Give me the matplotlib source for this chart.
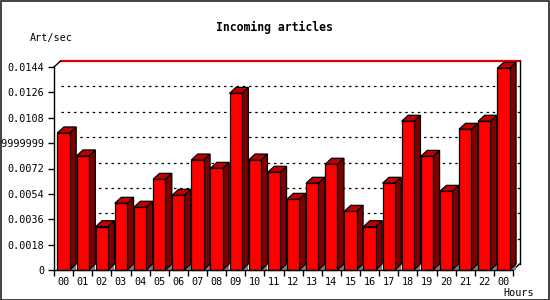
import numpy as np
import matplotlib
matplotlib.use("Agg")
import matplotlib.pyplot as plt
from matplotlib.patches import Rectangle, Polygon

hours = ["00", "01", "02", "03", "04", "05", "06", "07", "08", "09", "10", "11",
         "12", "13", "14", "15", "16", "17", "18", "19", "20", "21", "22", "00"]
art_per_sec = [0.00972, 0.00809, 0.00307, 0.00473, 0.00445, 0.00643, 0.0053, 0.0078,
               0.00721, 0.01253, 0.0078, 0.00693, 0.00501, 0.00615, 0.0075, 0.00416,
               0.00307, 0.00615, 0.01055, 0.00806, 0.00558, 0.00998, 0.01055, 0.01431]
yticks = [0, 0.0018, 0.0036, 0.0054, 0.0072, 0.009, 0.0108, 0.0126, 0.0144]
ytick_labels = ["0", "0.0018", "0.0036", "0.0054", "0.0072", "0.00899999999999",
                "0.0108", "0.0126", "0.0144"]

W, H = 550, 300
fig = plt.figure(figsize=(5.5, 3), dpi=100)
fig.patch.set_facecolor("white")
ax = fig.add_axes([54 / W, 30 / H, (513 - 54) / W, 203 / H])
ax.set_xlim(0, 24)
ax.set_ylim(0, 0.0144)
ax.patch.set_visible(False)

mono = "DejaVu Sans Mono"
n = len(art_per_sec)
# 3d depth in data units
px_x = 24 / 459
px_y = 0.0144 / 203
dx = 6.5 * px_x
dy = 6 * px_y
off = 3.4 * px_x
w = 12.3 * px_x

# back grid lines
for t in yticks[1:-1]:
    ax.plot([dx, 24 + dx], [t + dy, t + dy], color="black", lw=0.9,
            linestyle=(0, (2, 3)), clip_on=False, zorder=1)

# back frame
ax.plot([dx, 24 + dx], [0.0144 + dy, 0.0144 + dy], color="#e00000", lw=1.6,
        clip_on=False, zorder=1)
ax.plot([0, dx], [0.0144, 0.0144 + dy], color="black", lw=1, clip_on=False, zorder=1)
ax.plot([24 + dx, 24 + dx], [dy, 0.0144 + dy], color="black", lw=1, clip_on=False, zorder=1)
ax.plot([24, 24 + dx], [0, dy], color="black", lw=1, clip_on=False, zorder=1)

for i, v in enumerate(art_per_sec):
    x0 = i + off
    x1 = x0 + w
    ax.add_patch(Polygon([(x1, 0), (x1 + dx, 0), (x1 + dx, dy)], closed=True,
                         facecolor="#808080", edgecolor="none", zorder=2, clip_on=False))
    ax.add_patch(Polygon([(x1, v), (x1 + dx, v + dy), (x1 + dx, dy), (x1, 0)], closed=True,
                         facecolor="#800000", edgecolor="black", lw=0.9, zorder=2, clip_on=False))
    ax.add_patch(Polygon([(x0, v), (x0 + dx, v + dy), (x1 + dx, v + dy), (x1, v)], closed=True,
                         facecolor="#c00000", edgecolor="black", lw=0.9, zorder=2, clip_on=False))
    ax.add_patch(Rectangle((x0, 0), w, v, facecolor="#ff0000", edgecolor="black",
                           lw=0.9, zorder=3, clip_on=False))

for s in ["top", "right"]:
    ax.spines[s].set_visible(False)
for s in ["left", "bottom"]:
    ax.spines[s].set_linewidth(1)
    ax.spines[s].set_zorder(4)

ax.set_yticks(yticks)
ax.set_yticklabels(ytick_labels, fontfamily=mono, fontsize=7.3)
ax.tick_params(axis="y", direction="out", length=4, width=1, pad=3)
ax.set_xticks(range(n + 1))
ax.set_xticklabels([""] * (n + 1))
ax.tick_params(axis="x", which="major", direction="out", length=4, width=1)
ax.set_xticks(np.arange(n) + 0.5, hours, minor=True)
ax.tick_params(axis="x", which="minor", length=0, pad=5, labelsize=7.3)
for lab in ax.get_xticklabels(minor=True):
    lab.set_fontfamily(mono)

fig.text(274 / W, 1 - 27.5 / H, "Incoming articles", ha="center", va="center",
         fontfamily=mono, fontweight="bold", fontsize=8.3)
fig.text(30 / W, 1 - 37.5 / H, "Art/sec", ha="left", va="center",
         fontfamily=mono, fontsize=7.3)
fig.text(503 / W, 1 - 292.5 / H, "Hours", ha="left", va="center",
         fontfamily=mono, fontsize=7.3)

fig.add_artist(Rectangle((0.5 / W, 0.5 / H), 1 - 1.5 / W, 1 - 1.5 / H,
                         transform=fig.transFigure, fill=False,
                         edgecolor="#222222", lw=1.2))

fig.savefig("out.png", dpi=100)
